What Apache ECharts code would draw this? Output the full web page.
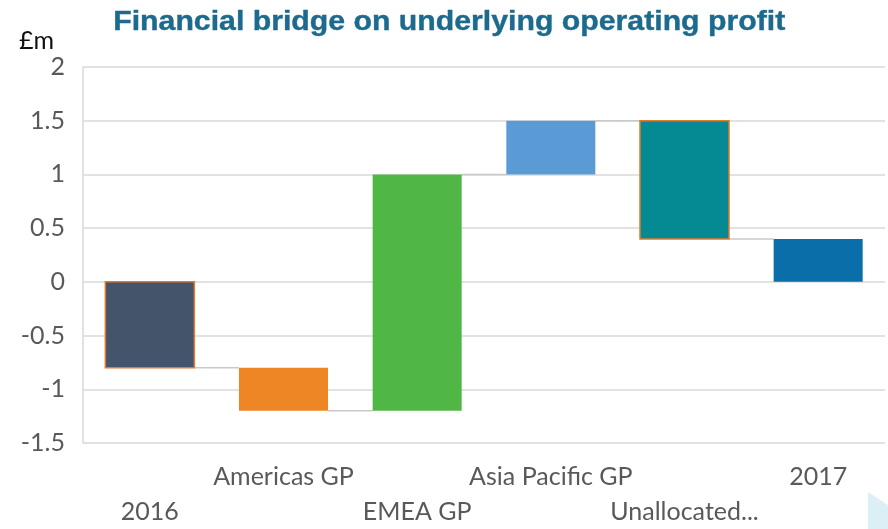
<!DOCTYPE html>
<html>
<head>
<meta charset="utf-8">
<script src="https://cdn.jsdelivr.net/npm/echarts@6/dist/echarts.min.js"></script>
<style>
  html, body { margin: 0; padding: 0; background: #ffffff; }
  #chart { width: 888px; height: 529px; }
</style>
</head>
<body>
<div id="chart"></div>
<script>
// Bridge steps: each bar runs from its start value to its end value (£m)
var categories = ['2016', 'Americas GP', 'EMEA GP', 'Asia Pacific GP', 'Unallocated...', '2017'];
var barStart = [0, -0.8, -1.2, 1.0, 1.5, 0];
var barEnd = [-0.8, -1.2, 1.0, 1.5, 0.4, 0.4];
var barColors = ['#44546A', '#EE8625', '#50B747', '#5B9BD5', '#058A93', '#0A6EA8'];
var barBorders = ['#E07B2E', null, null, null, '#E07B2E', null];
var yTicks = [-1.5, -1, -0.5, 0, 0.5, 1, 1.5, 2];

var barData = categories.map(function (c, i) {
  return [i, barStart[i], barEnd[i]];
});
// connectors run from the end level of one bar to the next bar
var linkData = [];
for (var i = 0; i < categories.length - 1; i++) {
  linkData.push([i, barEnd[i]]);
}

var BAR_RATIO = 0.666;
var chart = echarts.init(document.getElementById('chart'));

chart.setOption({
  animation: false,
  backgroundColor: '#ffffff',
  textStyle: { fontFamily: 'Lato' },
  grid: { left: 83, right: 3, top: 67, bottom: 85.5 },
  graphic: [
    {
      type: 'text',
      left: 113, top: 9,
      scaleX: 1.12,
      style: {
        text: 'Financial bridge on underlying operating profit',
        font: 'bold 27px "Liberation Sans"',
        fill: '#1C6B8E',
        stroke: '#1C6B8E',
        lineWidth: 0.4
      }
    },
    {
      type: 'text',
      left: 19, top: 28,
      style: { text: '£m', font: '25px Lato', fill: '#111111' }
    },
    {
      type: 'polygon',
      shape: { points: [[868, 492], [888, 505], [888, 529], [868, 529]] },
      style: { fill: '#DCEFF7' },
      silent: true
    }
  ],
  xAxis: {
    type: 'category',
    data: categories,
    axisLine: { show: false },
    axisTick: { show: false },
    splitLine: { show: false },
    axisLabel: {
      interval: 0,
      margin: 16,
      fontSize: 25,
      lineHeight: 35,
      color: '#595959',
      fontFamily: 'Lato',
      formatter: function (v, idx) {
        return idx % 2 === 0 ? '\n' + v : v;
      }
    }
  },
  yAxis: {
    type: 'value',
    min: yTicks[0],
    max: yTicks[yTicks.length - 1],
    interval: 0.5,
    axisLine: { show: true, lineStyle: { color: '#D9D9D9', width: 1.5 } },
    axisTick: { show: false },
    splitLine: { lineStyle: { color: '#D9D9D9', width: 1.5 } },
    axisLabel: {
      margin: 18,
      fontSize: 25,
      color: '#595959',
      fontFamily: 'Lato'
    }
  },
  series: [
    {
      type: 'custom',
      z: 1,
      data: linkData,
      renderItem: function (params, api) {
        var idx = api.value(0);
        var lvl = api.value(1);
        var half = api.size([1, 0])[0] * BAR_RATIO / 2;
        var a = api.coord([idx, lvl]);
        var b = api.coord([idx + 1, lvl]);
        return {
          type: 'line',
          shape: { x1: a[0] + half, y1: a[1], x2: b[0] - half, y2: b[1] },
          style: { stroke: '#C9C9C9', lineWidth: 1.5 }
        };
      }
    },
    {
      type: 'custom',
      z: 2,
      data: barData,
      renderItem: function (params, api) {
        var idx = api.value(0);
        var p0 = api.coord([idx, api.value(1)]);
        var p1 = api.coord([idx, api.value(2)]);
        var w = api.size([1, 0])[0] * BAR_RATIO;
        var border = barBorders[params.dataIndex];
        return {
          type: 'rect',
          shape: {
            x: p0[0] - w / 2,
            y: Math.min(p0[1], p1[1]),
            width: w,
            height: Math.abs(p1[1] - p0[1])
          },
          style: {
            fill: barColors[params.dataIndex],
            stroke: border || null,
            lineWidth: border ? 1.5 : 0
          }
        };
      }
    }
  ]
});
</script>
</body>
</html>
